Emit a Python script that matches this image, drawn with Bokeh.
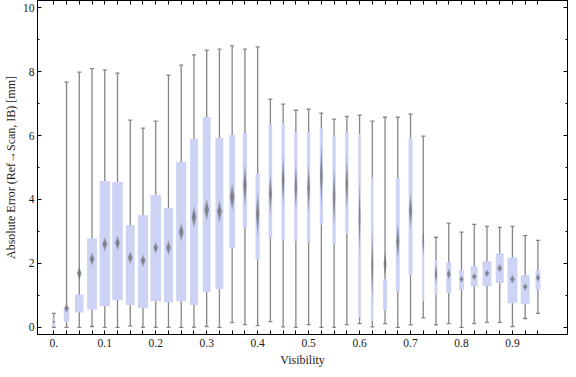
from bokeh.plotting import figure
from bokeh.models import Range1d, FixedTicker, LinearAxis, ColumnDataSource, CustomJSTickFormatter
from bokeh.embed import file_html
from bokeh.resources import INLINE

# ---------------- data ----------------
visibility = [0.0, 0.025, 0.05, 0.075, 0.1, 0.125, 0.15, 0.175, 0.2, 0.225,
              0.25, 0.275, 0.3, 0.325, 0.35, 0.375, 0.4, 0.425, 0.45, 0.475,
              0.5, 0.525, 0.55, 0.575, 0.6, 0.625, 0.65, 0.675, 0.7, 0.725,
              0.75, 0.775, 0.8, 0.825, 0.85, 0.875, 0.9, 0.925, 0.95]

whisker_low = [0.00, 0.00, 0.00, 0.03, 0.00, 0.00, 0.05, 0.00, 0.00, 0.00,
               0.00, 0.00, 0.03, 0.00, 0.15, 0.09, 0.06, 0.18, 0.02, 0.00,
               0.09, 0.00, 0.00, 0.09, 0.12, 0.02, 0.12, 0.00, 0.08, 0.30,
               0.08, 0.12, 0.00, 0.12, 0.16, 0.16, 0.03, 0.28, 0.44]

quartile_1 = [0.04, 0.18, 0.47, 0.56, 0.66, 0.85, 0.70, 0.60, 0.82, 0.78,
              0.82, 0.70, 1.10, 1.20, 2.49, 3.11, 2.12, 2.79, 2.76, 2.70,
              2.65, 3.21, 2.61, 2.93, 0.32, 0.20, 0.54, 1.14, 1.64, 0.83,
              1.02, 1.08, 1.18, 1.29, 1.29, 1.39, 0.76, 0.73, 1.18]

median = [0.18, 0.60, 1.69, 2.14, 2.60, 2.64, 2.18, 2.09, 2.49, 2.49,
          2.98, 3.45, 3.68, 3.63, 4.08, 4.44, 3.55, 4.18, 4.60, 4.39,
          4.35, 4.75, 4.08, 4.49, 3.45, 1.93, 1.98, 2.68, 3.65, 2.66,
          1.67, 1.67, 1.51, 1.59, 1.69, 1.85, 1.51, 1.27, 1.55]

median_spread = [0.05, 0.16, 0.22, 0.22, 0.24, 0.25, 0.21, 0.21, 0.20, 0.25,
                 0.32, 0.36, 0.37, 0.37, 0.47, 0.70, 0.73, 0.68, 0.84, 0.78,
                 0.80, 1.00, 1.00, 0.90, 1.25, 1.20, 0.42, 0.57, 0.60, 0.47,
                 0.35, 0.18, 0.12, 0.12, 0.12, 0.14, 0.14, 0.12, 0.14]

quartile_3 = [0.28, 0.63, 1.03, 2.79, 4.58, 4.55, 3.20, 3.51, 4.14, 3.73,
              5.17, 5.89, 6.58, 5.92, 6.02, 6.08, 4.80, 6.33, 6.39, 6.11,
              6.11, 6.24, 5.99, 6.11, 6.05, 4.69, 1.51, 4.67, 5.92, 2.77,
              2.10, 2.03, 1.79, 1.91, 2.07, 2.32, 2.19, 1.63, 1.79]

whisker_high = [0.44, 7.67, 7.98, 8.09, 8.05, 7.95, 6.48, 6.23, 6.45, 7.89,
                8.20, 8.52, 8.67, 8.70, 8.80, 8.70, 8.77, 7.14, 6.98, 6.79,
                6.82, 6.70, 6.51, 6.60, 6.64, 6.45, 6.57, 6.57, 6.67, 5.98,
                2.82, 3.26, 2.98, 3.22, 3.16, 3.13, 3.16, 2.87, 2.72]

# relative box widths (in visibility units), as drawn in the reference
box_width = [0.006, 0.011, 0.0168, 0.0193, 0.0203, 0.0207, 0.0174, 0.0199, 0.0207, 0.0174,
             0.0199, 0.0155, 0.0155, 0.0155, 0.0116, 0.0083, 0.0083, 0.0072, 0.0064, 0.0064,
             0.0064, 0.0064, 0.0064, 0.0064, 0.0045, 0.0048, 0.0077, 0.0077, 0.0077, 0.0040,
             0.0058, 0.0097, 0.0097, 0.0135, 0.0174, 0.0155, 0.0193, 0.0174, 0.0097]

x_major_ticks = [0.0, 0.1, 0.2, 0.3, 0.4, 0.5, 0.6, 0.7, 0.8, 0.9]
x_tick_labels = ["0.", "0.1", "0.2", "0.3", "0.4", "0.5", "0.6", "0.7", "0.8", "0.9"]
y_major_ticks = [0, 2, 4, 6, 8, 10]
y_minor_ticks = [1, 3, 5, 7, 9]

x_title = "Visibility"
y_title = "Absolute Error (Ref\u2192Scan, IB) [mm]"

# ---------------- styles ----------------
BOX_COLOR = "#CDD3F5"
WHISKER_COLOR = "#858585"
DIAMOND_COLOR = "#6a6a6a"
FONT = "Liberation Serif"
CAP_HALF = 0.004
DIAMOND_MAX_W = 0.0095

p = figure(width=568, height=369,
           x_range=Range1d(-0.032, 1.008), y_range=Range1d(-0.22, 10.22),
           output_backend="svg", toolbar_location=None,
           min_border_left=20, min_border_right=1, min_border_top=0, min_border_bottom=30,
           x_axis_label=x_title, y_axis_label=y_title)
p.grid.visible = False
p.outline_line_color = "black"
p.outline_line_width = 1
p.background_fill_color = "white"
p.border_fill_color = "white"

src = ColumnDataSource(dict(x=visibility, lo=whisker_low, hi=whisker_high,
                            q1=quartile_1, q3=quartile_3, w=box_width,
                            cx0=[v - CAP_HALF for v in visibility],
                            cx1=[v + CAP_HALF for v in visibility]))

# whiskers and caps
p.segment(x0="x", y0="lo", x1="x", y1="hi", source=src, line_color=WHISKER_COLOR, line_width=1.3)
p.segment(x0="cx0", y0="hi", x1="cx1", y1="hi", source=src, line_color=WHISKER_COLOR, line_width=1.3)
p.segment(x0="cx0", y0="lo", x1="cx1", y1="lo", source=src, line_color=WHISKER_COLOR, line_width=1.3)

# boxes
p.vbar(x="x", width="w", bottom="q1", top="q3", source=src, fill_color=BOX_COLOR, line_color=None)

# median diamonds (layered to mimic the soft shading)
for scale in [1.0, 0.75, 0.5]:
    xs, ys = [], []
    for v, m, s, w in zip(visibility, median, median_spread, box_width):
        hw = min(DIAMOND_MAX_W, 0.8 * w) / 2 * (0.6 + 0.4 * scale)
        hh = s * scale
        xs.append([v - hw, v, v + hw, v])
        ys.append([m, m + hh, m, m - hh])
    p.patches(xs, ys, fill_color=DIAMOND_COLOR, fill_alpha=0.38, line_color=None)

# bottom axis
minor_x = [v for v in visibility if v not in x_major_ticks]
xa = p.xaxis[0]
xa.ticker = FixedTicker(ticks=x_major_ticks, minor_ticks=minor_x)
xa.major_label_overrides = dict(zip(x_major_ticks, x_tick_labels))
xa.major_tick_in = 4
xa.major_tick_out = 0
xa.minor_tick_in = 4
xa.minor_tick_out = 0
xa.major_label_standoff = 4
xa.axis_label_standoff = 3

# left axis
ya = p.yaxis[0]
ya.ticker = FixedTicker(ticks=y_major_ticks, minor_ticks=y_minor_ticks)
ya.major_tick_in = 4
ya.major_tick_out = 0
ya.minor_tick_in = 2
ya.minor_tick_out = 0
ya.major_label_standoff = 3
ya.axis_label_standoff = 2

for ax in (xa, ya):
    ax.axis_line_color = "black"
    ax.major_tick_line_color = "black"
    ax.minor_tick_line_color = "black"
    ax.major_label_text_font = FONT
    ax.major_label_text_font_size = "11.5px"
    ax.major_label_text_color = "#1a1a1a"
    ax.axis_label_text_font = FONT
    ax.axis_label_text_font_size = "12px"
    ax.axis_label_text_font_style = "normal"
    ax.axis_label_text_color = "#1a1a1a"

# frame ticks on top and right
blank = CustomJSTickFormatter(code="return '';")
top = LinearAxis(ticker=FixedTicker(ticks=visibility), formatter=blank,
                 major_tick_in=4, major_tick_out=0, minor_tick_in=0, minor_tick_out=0,
                 major_label_standoff=0, major_label_text_font_size="0px",
                 axis_line_color="black", major_tick_line_color="black")
p.add_layout(top, "above")
right = LinearAxis(ticker=FixedTicker(ticks=y_major_ticks, minor_ticks=y_minor_ticks), formatter=blank,
                   major_tick_in=4, major_tick_out=0, minor_tick_in=2, minor_tick_out=0,
                   major_label_standoff=0, major_label_text_font_size="0px",
                   axis_line_color="black", major_tick_line_color="black", minor_tick_line_color="black")
p.add_layout(right, "right")

open("out.html", "w").write(file_html(p, INLINE))
